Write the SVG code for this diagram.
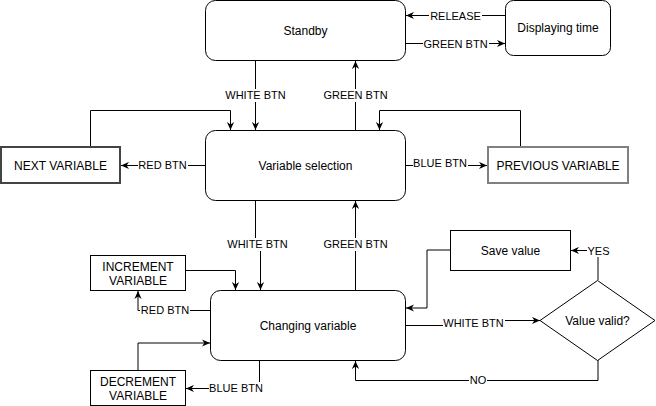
<svg xmlns="http://www.w3.org/2000/svg" width="656" height="406" viewBox="0 0 656 406">
<style>
.n{fill:#fff;stroke:#000;stroke-width:1}
.t{font-family:"Liberation Sans",Arial,sans-serif;font-size:12px;fill:#000;text-anchor:middle;dominant-baseline:central}
.l{font-family:"Liberation Sans",Arial,sans-serif;font-size:11px;fill:#000;text-anchor:middle;dominant-baseline:central}
.e{fill:none;stroke:#000;stroke-width:1}
.bg{fill:#fff}
</style>
<defs>
<marker id="a" viewBox="0 0 10 10" refX="10" refY="5" markerWidth="8" markerHeight="8" markerUnits="userSpaceOnUse" orient="auto">
<path d="M0,0.5 L10,5 L0,9.5 L3,5 z" fill="#000"/>
</marker>
</defs>
<g id="connectors">
<path class="e" d="M505,15.5 L406,15.5" marker-end="url(#a)"/>
<path class="e" d="M405.5,43.5 L505,43.5" marker-end="url(#a)"/>
<path class="e" d="M255.5,60.5 L255.5,130" marker-end="url(#a)"/>
<path class="e" d="M355.5,130.5 L355.5,61" marker-end="url(#a)"/>
<path class="e" d="M90.5,147 L90.5,110.5 L230.5,110.5 L230.5,130" marker-end="url(#a)"/>
<path class="e" d="M520.5,147 L520.5,110.5 L379.5,110.5 L379.5,130" marker-end="url(#a)"/>
<path class="e" d="M205.5,165.5 L121,165.5" marker-end="url(#a)"/>
<path class="e" d="M405.5,165.5 L487,165.5" marker-end="url(#a)"/>
<path class="e" d="M255.5,200.5 L255.5,244.5 L260.5,244.5 L260.5,290" marker-end="url(#a)"/>
<path class="e" d="M355.5,290.5 L355.5,201" marker-end="url(#a)"/>
<path class="e" d="M185.5,270.5 L235.5,270.5 L235.5,290" marker-end="url(#a)"/>
<path class="e" d="M210.5,310.5 L138,310.5 L138,291" marker-end="url(#a)"/>
<path class="e" d="M138,370 L138,343 L210,343" marker-end="url(#a)"/>
<path class="e" d="M259.5,360.5 L259.5,388.5 L186,388.5" marker-end="url(#a)"/>
<path class="e" d="M405.5,325.5 L473,325.5 L473,320.5 L540,320.5" marker-end="url(#a)"/>
<path class="e" d="M598,280 L598,250.5 L571,250.5" marker-end="url(#a)"/>
<path class="e" d="M450,250 L427,250 L427,308 L406,308" marker-end="url(#a)"/>
<path class="e" d="M598,360 L598,380.5 L355.5,380.5 L355.5,361" marker-end="url(#a)"/>
<rect class="bg" x="429" y="9" width="53" height="13"/><text class="l" x="455.5" y="15.5">RELEASE</text>
<rect class="bg" x="423" y="37" width="66" height="13"/><text class="l" x="455.5" y="43.5">GREEN BTN</text>
<rect class="bg" x="225" y="89" width="62" height="13"/><text class="l" x="255.5" y="95">WHITE BTN</text>
<rect class="bg" x="323" y="89" width="66" height="13"/><text class="l" x="355.5" y="95">GREEN BTN</text>
<rect class="bg" x="138" y="159" width="50" height="13"/><text class="l" x="162.5" y="164.5">RED BTN</text>
<rect class="bg" x="413" y="157" width="55" height="13"/><text class="l" x="440" y="163">BLUE BTN</text>
<rect class="bg" x="227" y="238" width="62" height="13"/><text class="l" x="257.5" y="244">WHITE BTN</text>
<rect class="bg" x="323" y="238" width="66" height="13"/><text class="l" x="355.5" y="244">GREEN BTN</text>
<rect class="bg" x="140" y="304" width="50" height="13"/><text class="l" x="165" y="310">RED BTN</text>
<rect class="bg" x="209" y="382" width="55" height="13"/><text class="l" x="236" y="388">BLUE BTN</text>
<rect class="bg" x="443" y="316" width="62" height="13"/><text class="l" x="473.5" y="322.5">WHITE BTN</text>
<rect class="bg" x="469" y="374" width="18" height="13"/><text class="l" x="478" y="380">NO</text>
<rect class="bg" x="587" y="244" width="24" height="13"/><text class="l" x="598.5" y="250.5">YES</text>
</g>
<g id="standby"><rect class="n" x="205.5" y="0.5" width="200" height="60" rx="10"/><text class="t" x="305.5" y="31">Standby</text></g>
<g id="displaying-time"><rect class="n" x="505.5" y="0.5" width="105" height="55" rx="8"/><text class="t" x="558" y="28">Displaying time</text></g>
<g id="variable-selection"><rect class="n" x="205.5" y="130.5" width="200" height="70" rx="10"/><text class="t" x="305.5" y="165.5">Variable selection</text></g>
<g id="next-variable"><rect x="1" y="147" width="119" height="36" fill="#fff" stroke="#444" stroke-width="2"/><text class="t" x="60.5" y="165.5">NEXT VARIABLE</text></g>
<g id="previous-variable"><rect x="488" y="147" width="140" height="36" fill="#fff" stroke="#808080" stroke-width="2"/><text class="t" x="558" y="165.5">PREVIOUS VARIABLE</text></g>
<g id="changing-variable"><rect class="n" x="210.5" y="290.5" width="195" height="70" rx="10"/><text class="t" x="308" y="325.5">Changing variable</text></g>
<g id="increment-variable"><rect class="n" x="90.5" y="255.5" width="95" height="35"/><text class="t" x="138" y="266.5">INCREMENT</text><text class="t" x="138" y="281">VARIABLE</text></g>
<g id="decrement-variable"><rect class="n" x="90.5" y="370.5" width="95" height="35"/><text class="t" x="138" y="381.5">DECREMENT</text><text class="t" x="138" y="396">VARIABLE</text></g>
<g id="save-value"><rect class="n" x="450.5" y="230.5" width="120" height="40"/><text class="t" x="510.5" y="250.5">Save value</text></g>
<g id="value-valid"><polygon class="n" points="597.5,280.5 655,320.5 597.5,360.5 540,320.5"/><text class="t" x="597.5" y="320.5">Value valid?</text></g>
</svg>
